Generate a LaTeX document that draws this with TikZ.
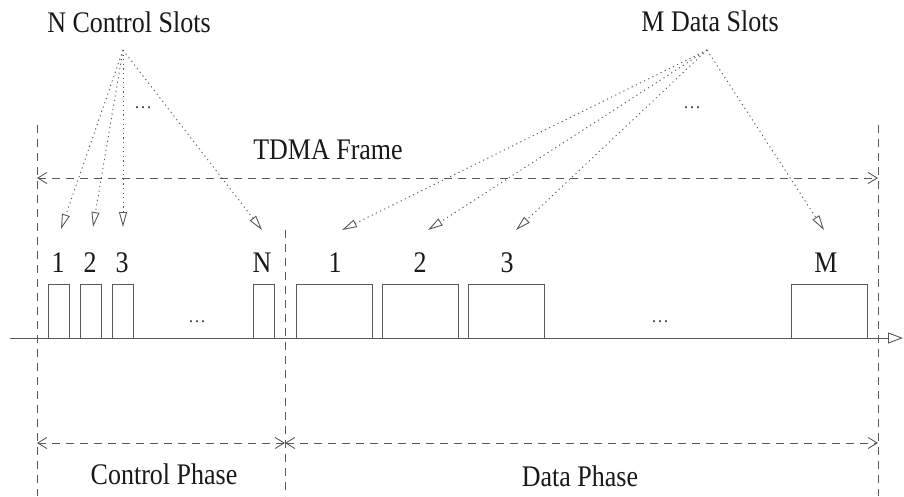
\documentclass[tikz,border=0pt]{standalone}
\usepackage{graphicx}
\usepackage{fontspec}
\setmainfont{Liberation Serif}
\usetikzlibrary{arrows.meta}
\newcommand{\tall}[1]{\scalebox{1}[1.15]{#1}}

\begin{document}
\begin{tikzpicture}[x=1pt,y=-1pt,line width=0.9pt,
    slot/.style={draw=black!65,anchor=south west,minimum height=54pt,inner sep=0pt,outer sep=0pt},
    ctrl slot/.style={slot,minimum width=21pt},
    data slot/.style={slot,minimum width=76pt},
    txt/.style={font=\fontsize{26}{30}\selectfont,text=black!90,inner sep=0pt},
    gap/.style={font=\fontsize{18}{20}\selectfont,text=black!75,inner sep=0pt},
    guide/.style={draw=black!65,dash pattern=on 8pt off 6pt},
    span/.style={guide,{Straight Barb[length=9pt,width=11pt]}-{Straight Barb[length=9pt,width=11pt]}},
    pointer/.style={draw=black!65,dash pattern=on 1.2pt off 3.4pt,-{Triangle[open,length=15pt,width=8pt]}}]
    \useasboundingbox (0,0) rectangle (904,496);
    % headings
    \node[txt] (ctrl title) at (129,22) {\tall{N Control Slots}};
    \node[txt] (data title) at (710,21) {\tall{M Data Slots}};
    \node[txt] (frame title) at (328,150) {\tall{TDMA Frame}};
    \coordinate (ctrl src) at (123,50);
    \coordinate (data src) at (707,50);
    % frame boundaries
    \coordinate (left top) at (37,125);
    \coordinate (left bot) at (37,496);
    \coordinate (mid top) at (285,230);
    \coordinate (mid bot) at (285,496);
    \coordinate (right top) at (878,125);
    \coordinate (right bot) at (878,496);
    \draw[guide] (left top) -- (left bot);
    \draw[guide] (mid top) -- (mid bot);
    \draw[guide] (right top) -- (right bot);
    \coordinate (frame l) at (37,178);
    \coordinate (frame r) at (878,178);
    \draw[span] (frame l) -- (frame r);
    % time axis
    \coordinate (axis l) at (10,338);
    \coordinate (axis r) at (903,338);
    \draw[draw=black!65,-{Triangle[open,length=15pt,width=11pt]}] (axis l) -- (axis r);
    % slots
    \node[ctrl slot] (c1) at (48,338) {};
    \node[ctrl slot] (c2) at (80,338) {};
    \node[ctrl slot] (c3) at (112,338) {};
    \node[ctrl slot] (cN) at (253,338) {};
    \node[data slot] (d1) at (296,338) {};
    \node[data slot] (d2) at (382,338) {};
    \node[data slot] (d3) at (468,338) {};
    \node[data slot] (dM) at (791,338) {};
    \node[gap] (ctrl gap) at (197,322) {\dots};
    \node[gap] (data gap) at (660,322) {\dots};
    % slot numbers
    \node[txt] (c1 lbl) at (58,263) {\tall{1}};
    \node[txt] (c2 lbl) at (90,263) {\tall{2}};
    \node[txt] (c3 lbl) at (122,263) {\tall{3}};
    \node[txt] (cN lbl) at (262,263) {\tall{N}};
    \node[txt] (d1 lbl) at (335,263) {\tall{1}};
    \node[txt] (d2 lbl) at (420,263) {\tall{2}};
    \node[txt] (d3 lbl) at (507,263) {\tall{3}};
    \node[txt] (dM lbl) at (826,263) {\tall{M}};
    % pointers
    \coordinate (c1 tip) at (61,229);
    \coordinate (c2 tip) at (93,227);
    \coordinate (c3 tip) at (123,227);
    \coordinate (cN tip) at (262,230);
    \coordinate (d1 tip) at (342,230);
    \coordinate (d2 tip) at (428,230);
    \coordinate (d3 tip) at (516,230);
    \coordinate (dM tip) at (824,230);
    \path[every edge/.style={pointer}]
    (ctrl src) edge (c1 tip) edge (c2 tip) edge (c3 tip) edge (cN tip)
    (data src) edge (d1 tip) edge (d2 tip) edge (d3 tip) edge (dM tip);
    \node[gap] (ctrl ptr gap) at (143,108) {\dots};
    \node[gap] (data ptr gap) at (692,108) {\dots};
    % phases
    \coordinate (phase l) at (37,443);
    \coordinate (phase m) at (285,443);
    \coordinate (phase r) at (878,443);
    \draw[span] (phase l) -- (phase m);
    \draw[span] (phase m) -- (phase r);
    \node[txt] (ctrl phase) at (164,474) {\tall{Control Phase}};
    \node[txt] (data phase) at (580,476) {\tall{Data Phase}};
\end{tikzpicture}
\end{document}
